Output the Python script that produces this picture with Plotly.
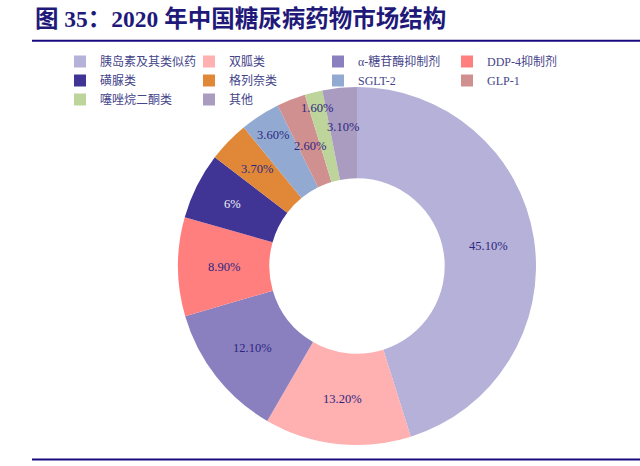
import math
import plotly.graph_objects as go

categories = ["胰岛素及其类似药", "双胍类", "α-糖苷酶抑制剂", "DDP-4抑制剂",
              "磺脲类", "格列奈类", "SGLT-2", "GLP-1", "噻唑烷二酮类", "其他"]
values = [45.1, 13.2, 12.1, 8.9, 6.0, 3.7, 3.6, 2.6, 1.6, 3.1]
labels_text = ["45.10%", "13.20%", "12.10%", "8.90%", "6%", "3.70%", "3.60%", "2.60%", "1.60%", "3.10%"]
colors = ["#B5B1D8", "#FFB0B0", "#8A80BF", "#FF7F7F", "#403595",
          "#E08838", "#92AAD2", "#D09090", "#BDD49A", "#A99CC0"]
text_colors = ["#2D2680"] * 4 + ["#F0F0F8"] + ["#2D2680"] * 5
# radial placement of each label as a fraction of the outer radius (style)
label_radius = [0.745, 0.745, 0.745, 0.745, 0.78, 0.78, 0.87, 0.72, 0.91, 0.78]

W, H = 640, 466
FONT = "Liberation Serif, Noto Sans CJK SC, serif"
HOLE = 0.49
# pie domain in pixels
PX0, PX1, PY0, PY1 = 178, 536, 87, 445
CX, CY = (PX0 + PX1) / 2, (PY0 + PY1) / 2
R = min(PX1 - PX0, PY1 - PY0) / 2

fig = go.Figure(go.Pie(
    labels=categories,
    values=values,
    textinfo="none",
    marker=dict(colors=colors, line=dict(color="white", width=0)),
    hole=HOLE,
    sort=False,
    direction="clockwise",
    rotation=0,
    domain=dict(x=[PX0 / W, PX1 / W], y=[1 - PY1 / H, 1 - PY0 / H]),
    hoverinfo="label+percent",
))

# slice labels placed at the angular middle of each slice
total = sum(values)
annotations = []
cum = 0.0
for v, t, c, rf in zip(values, labels_text, text_colors, label_radius):
    mid = (cum + v / 2) / total
    cum += v
    ang = 2 * math.pi * mid
    x_px = CX + rf * R * math.sin(ang)
    y_px = CY - rf * R * math.cos(ang)
    annotations.append(dict(
        text=t, x=x_px / W, y=1 - y_px / H, xref="paper", yref="paper",
        xanchor="center", yanchor="middle", showarrow=False,
        font=dict(family=FONT, size=12.5, color=c),
    ))

annotations.append(dict(
    text="<b>图 35：2020 年中国糖尿病药物市场结构</b>",
    x=33 / W, y=1 - 19 / H, xref="paper", yref="paper",
    xanchor="left", yanchor="middle", showarrow=False,
    font=dict(family=FONT, size=23.5, color="#1F1A7A"),
))

fig.update_layout(
    width=W, height=H,
    margin=dict(l=0, r=0, t=0, b=0),
    paper_bgcolor="white",
    plot_bgcolor="white",
    showlegend=True,
    legend=dict(
        orientation="h",
        x=60 / W, xanchor="left",
        y=1 - 47 / H, yanchor="top",
        entrywidth=84, entrywidthmode="pixels",
        font=dict(family=FONT, size=12, color="#45458A"),
        itemwidth=30,
        tracegroupgap=0,
        bgcolor="rgba(0,0,0,0)",
    ),
    annotations=annotations,
    shapes=[
        dict(type="line", xref="paper", yref="paper", x0=32 / W, x1=1,
             y0=1 - 40.7 / H, y1=1 - 40.7 / H, line=dict(color="#1A0A80", width=2)),
        dict(type="line", xref="paper", yref="paper", x0=32 / W, x1=1,
             y0=1 - 459.5 / H, y1=1 - 459.5 / H, line=dict(color="#1A0A80", width=2)),
    ],
)

fig.write_html("out.html", config={"displayModeBar": False},
               post_script="document.body.style.margin='0px';")
